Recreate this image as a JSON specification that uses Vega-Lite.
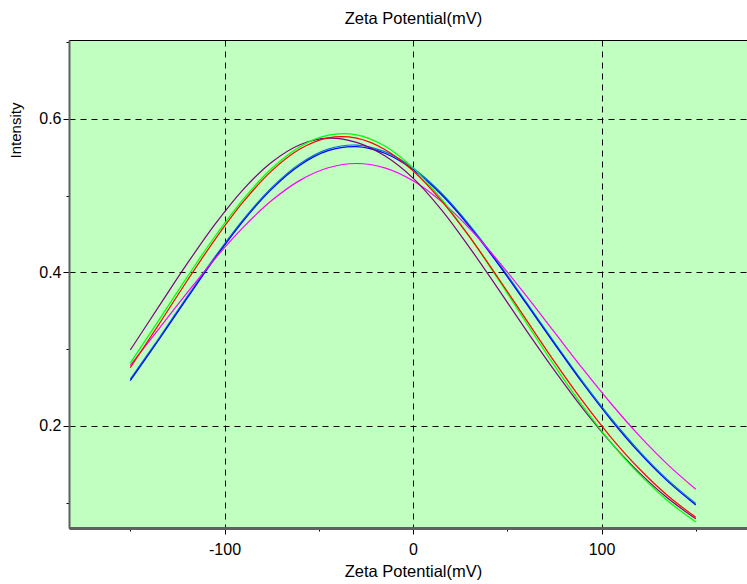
{
  "$schema": "https://vega.github.io/schema/vega-lite/v6.json",
  "width": 679,
  "height": 488,
  "autosize": {"type": "none"},
  "padding": {"left": 69, "top": 40, "right": 0, "bottom": 56},
  "background": "white",
  "title": {"text": "Zeta Potential(mV)", "fontSize": 16.5, "font": "Liberation Sans", "fontWeight": "normal", "color": "black", "anchor": "middle", "dx": 5, "offset": 13},
  "config": {"view": {"fill": "#C0FFC0", "stroke": "#000000", "strokeWidth": 1}, "font": "Liberation Sans"},
  "data": {"values": [
    {"s": "blue2", "x": -150, "y": 0.261}, {"s": "blue2", "x": -135, "y": 0.3137}, {"s": "blue2", "x": -120, "y": 0.3679}, {"s": "blue2", "x": -105, "y": 0.4207}, {"s": "blue2", "x": -90, "y": 0.4693}, {"s": "blue2", "x": -75, "y": 0.5106}, {"s": "blue2", "x": -60, "y": 0.5418}, {"s": "blue2", "x": -45, "y": 0.5607}, {"s": "blue2", "x": -30, "y": 0.566}, {"s": "blue2", "x": -15, "y": 0.5574}, {"s": "blue2", "x": 0, "y": 0.5361}, {"s": "blue2", "x": 15, "y": 0.5036}, {"s": "blue2", "x": 30, "y": 0.4618}, {"s": "blue2", "x": 45, "y": 0.4136}, {"s": "blue2", "x": 60, "y": 0.3617}, {"s": "blue2", "x": 75, "y": 0.309}, {"s": "blue2", "x": 90, "y": 0.2577}, {"s": "blue2", "x": 105, "y": 0.2101}, {"s": "blue2", "x": 120, "y": 0.1673}, {"s": "blue2", "x": 135, "y": 0.1301}, {"s": "blue2", "x": 150, "y": 0.099},
    {"s": "blue", "x": -150, "y": 0.259}, {"s": "blue", "x": -135, "y": 0.3117}, {"s": "blue", "x": -120, "y": 0.3659}, {"s": "blue", "x": -105, "y": 0.4187}, {"s": "blue", "x": -90, "y": 0.4673}, {"s": "blue", "x": -75, "y": 0.5086}, {"s": "blue", "x": -60, "y": 0.5398}, {"s": "blue", "x": -45, "y": 0.5587}, {"s": "blue", "x": -30, "y": 0.564}, {"s": "blue", "x": -15, "y": 0.5554}, {"s": "blue", "x": 0, "y": 0.5341}, {"s": "blue", "x": 15, "y": 0.5016}, {"s": "blue", "x": 30, "y": 0.4598}, {"s": "blue", "x": 45, "y": 0.4116}, {"s": "blue", "x": 60, "y": 0.3597}, {"s": "blue", "x": 75, "y": 0.307}, {"s": "blue", "x": 90, "y": 0.2557}, {"s": "blue", "x": 105, "y": 0.2081}, {"s": "blue", "x": 120, "y": 0.1653}, {"s": "blue", "x": 135, "y": 0.1281}, {"s": "blue", "x": 150, "y": 0.097},
    {"s": "magenta", "x": -150, "y": 0.279}, {"s": "magenta", "x": -135, "y": 0.326}, {"s": "magenta", "x": -120, "y": 0.3731}, {"s": "magenta", "x": -105, "y": 0.4182}, {"s": "magenta", "x": -90, "y": 0.4591}, {"s": "magenta", "x": -75, "y": 0.4937}, {"s": "magenta", "x": -60, "y": 0.52}, {"s": "magenta", "x": -45, "y": 0.5364}, {"s": "magenta", "x": -30, "y": 0.542}, {"s": "magenta", "x": -15, "y": 0.5363}, {"s": "magenta", "x": 0, "y": 0.5195}, {"s": "magenta", "x": 15, "y": 0.4926}, {"s": "magenta", "x": 30, "y": 0.4573}, {"s": "magenta", "x": 45, "y": 0.4156}, {"s": "magenta", "x": 60, "y": 0.3698}, {"s": "magenta", "x": 75, "y": 0.3222}, {"s": "magenta", "x": 90, "y": 0.2747}, {"s": "magenta", "x": 105, "y": 0.2293}, {"s": "magenta", "x": 120, "y": 0.1874}, {"s": "magenta", "x": 135, "y": 0.15}, {"s": "magenta", "x": 150, "y": 0.1175},
    {"s": "purple", "x": -150, "y": 0.299}, {"s": "purple", "x": -135, "y": 0.3551}, {"s": "purple", "x": -120, "y": 0.4108}, {"s": "purple", "x": -105, "y": 0.463}, {"s": "purple", "x": -90, "y": 0.5084}, {"s": "purple", "x": -75, "y": 0.5437}, {"s": "purple", "x": -60, "y": 0.5665}, {"s": "purple", "x": -45, "y": 0.575}, {"s": "purple", "x": -30, "y": 0.5695}, {"s": "purple", "x": -15, "y": 0.552}, {"s": "purple", "x": 0, "y": 0.523}, {"s": "purple", "x": 15, "y": 0.482}, {"s": "purple", "x": 30, "y": 0.4325}, {"s": "purple", "x": 45, "y": 0.3792}, {"s": "purple", "x": 60, "y": 0.325}, {"s": "purple", "x": 75, "y": 0.2725}, {"s": "purple", "x": 90, "y": 0.223}, {"s": "purple", "x": 105, "y": 0.1783}, {"s": "purple", "x": 120, "y": 0.1392}, {"s": "purple", "x": 135, "y": 0.1061}, {"s": "purple", "x": 150, "y": 0.079},
    {"s": "green", "x": -150, "y": 0.282}, {"s": "green", "x": -135, "y": 0.3373}, {"s": "green", "x": -120, "y": 0.3934}, {"s": "green", "x": -105, "y": 0.4472}, {"s": "green", "x": -90, "y": 0.4956}, {"s": "green", "x": -75, "y": 0.5354}, {"s": "green", "x": -60, "y": 0.5639}, {"s": "green", "x": -45, "y": 0.5789}, {"s": "green", "x": -30, "y": 0.5793}, {"s": "green", "x": -15, "y": 0.5648}, {"s": "green", "x": 0, "y": 0.5363}, {"s": "green", "x": 15, "y": 0.4959}, {"s": "green", "x": 30, "y": 0.4467}, {"s": "green", "x": 45, "y": 0.3919}, {"s": "green", "x": 60, "y": 0.3349}, {"s": "green", "x": 75, "y": 0.2787}, {"s": "green", "x": 90, "y": 0.2259}, {"s": "green", "x": 105, "y": 0.1784}, {"s": "green", "x": 120, "y": 0.1372}, {"s": "green", "x": 135, "y": 0.1027}, {"s": "green", "x": 150, "y": 0.075},
    {"s": "red", "x": -150, "y": 0.276}, {"s": "red", "x": -135, "y": 0.3318}, {"s": "red", "x": -120, "y": 0.3886}, {"s": "red", "x": -105, "y": 0.4432}, {"s": "red", "x": -90, "y": 0.4922}, {"s": "red", "x": -75, "y": 0.5324}, {"s": "red", "x": -60, "y": 0.5608}, {"s": "red", "x": -45, "y": 0.5753}, {"s": "red", "x": -30, "y": 0.575}, {"s": "red", "x": -15, "y": 0.5603}, {"s": "red", "x": 0, "y": 0.5326}, {"s": "red", "x": 15, "y": 0.4937}, {"s": "red", "x": 30, "y": 0.4463}, {"s": "red", "x": 45, "y": 0.3935}, {"s": "red", "x": 60, "y": 0.3385}, {"s": "red", "x": 75, "y": 0.2839}, {"s": "red", "x": 90, "y": 0.2323}, {"s": "red", "x": 105, "y": 0.1853}, {"s": "red", "x": 120, "y": 0.1443}, {"s": "red", "x": 135, "y": 0.1095}, {"s": "red", "x": 150, "y": 0.081}
  ]},
  "mark": {"type": "line", "interpolate": "catmull-rom", "strokeWidth": 1.2},
  "encoding": {
    "x": {
      "field": "x", "type": "quantitative",
      "scale": {"domain": [-182.5, 177.7], "nice": false, "zero": false},
      "axis": {
        "values": [-150, -100, -50, 0, 50, 100, 150],
        "labelExpr": "datum.value % 100 === 0 ? toString(datum.value) : ''",
        "title": "Zeta Potential(mV)",
        "titleFontSize": 16.5, "titleFontWeight": "normal", "titleColor": "black", "titleFont": "Liberation Sans",
        "titleX": 344, "titlePadding": 6,
        "labelFontSize": 16, "labelColor": "black", "labelFont": "Liberation Sans", "labelPadding": 7,
        "tickColor": "black",
        "tickSize": {"condition": {"test": "datum.value % 100 === 0", "value": 6}, "value": 3},
        "grid": true, "gridColor": "black", "gridDash": [6, 5], "gridWidth": 1,
        "gridOpacity": {"condition": {"test": "datum.value % 100 === 0", "value": 1}, "value": 0},
        "domainColor": "#606060", "domainWidth": 3
      }
    },
    "y": {
      "field": "y", "type": "quantitative",
      "scale": {"domain": [0.0671, 0.7029], "nice": false, "zero": false},
      "axis": {
        "values": [0.1, 0.2, 0.3, 0.4, 0.5, 0.6, 0.7],
        "labelExpr": "round(datum.value * 10) % 2 === 0 ? format(datum.value, '.1f') : ''",
        "title": "Intensity",
        "titleFontSize": 15, "titleFontWeight": "normal", "titleColor": "black", "titleFont": "Liberation Sans",
        "titleX": -54, "titleY": 90, "titleAlign": "center", "titleBaseline": "middle", "titleAngle": -90,
        "labelFontSize": 16, "labelColor": "black", "labelFont": "Liberation Sans", "labelPadding": 2,
        "tickColor": "black",
        "tickSize": {"condition": {"test": "round(datum.value * 10) % 2 === 0", "value": 6}, "value": 3},
        "grid": true, "gridColor": "black", "gridDash": [6, 5], "gridWidth": 1,
        "gridOpacity": {"condition": {"test": "round(datum.value * 10) % 2 === 0", "value": 1}, "value": 0},
        "domainColor": "#606060", "domainWidth": 2
      }
    },
    "color": {
      "field": "s", "type": "nominal", "legend": null,
      "scale": {"domain": ["blue2", "blue", "magenta", "purple", "green", "red"], "range": ["#0078C8", "#0000FF", "#FF00FF", "#800080", "#00FF00", "#FF0000"]}
    },
    "order": {"value": 0}
  }
}
